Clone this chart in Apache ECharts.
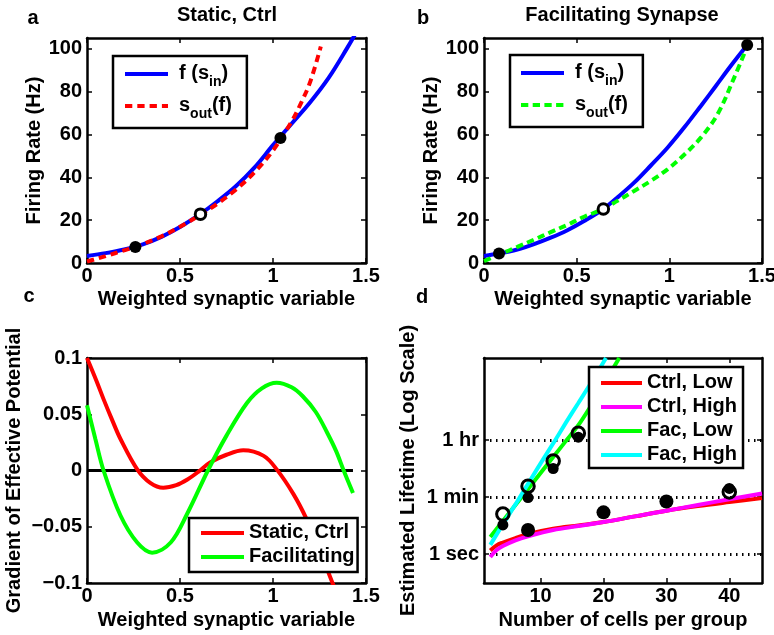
<!DOCTYPE html>
<html>
<head>
<meta charset="utf-8">
<title>Firing rate and lifetime</title>
<script src="https://cdn.jsdelivr.net/npm/echarts@6.0.0/dist/echarts.min.js"></script>
<style>
  html, body { margin: 0; padding: 0; background: #fff; }
  #main { width: 774px; height: 635px; }
</style>
</head>
<body>
<div id="main"></div>
<script>
// ---- a : static synapse, control ----
var aInS    = [0, 0.1, 0.2, 0.3, 0.4, 0.5, 0.6, 0.7, 0.8, 0.9, 1.0, 1.1, 1.2, 1.3, 1.4, 1.45];
var aInHz   = [3.3, 4.6, 6.3, 8.7, 12.2, 16.8, 22.3, 28.7, 35.8, 44.5, 55, 65, 75, 86.5, 100.5, 108];
var aOutS   = [0, 0.1, 0.2, 0.26, 0.4, 0.5, 0.6, 0.7, 0.8, 0.9, 1.0, 1.1, 1.15, 1.2, 1.257];
var aOutHz  = [0.7, 3.2, 5.9, 7.5, 12.4, 16.9, 22.0, 27.6, 34.2, 42.3, 52.5, 66, 74.5, 84.5, 101];
var aDotS   = [0.26, 1.04];
var aDotHz  = [7.5, 58.3];
var aRingS  = [0.61];
var aRingHz = [22.8];

// ---- b : facilitating synapse ----
var bInS    = [0, 0.081, 0.18, 0.27, 0.36, 0.45, 0.54, 0.644, 0.72, 0.81, 0.9, 0.99, 1.08, 1.17, 1.25, 1.33, 1.42];
var bInHz   = [3.3, 4.4, 6.3, 8.8, 11.8, 15.3, 19.6, 25.2, 30.6, 37.5, 45.5, 53.8, 63.2, 73.3, 82.5, 91.8, 101.7];
var bOutS   = [0, 0.09, 0.18, 0.27, 0.36, 0.45, 0.54, 0.644, 0.72, 0.81, 0.9, 0.99, 1.08, 1.17, 1.26, 1.35, 1.42];
var bOutHz  = [0.9, 4.2, 7.5, 10.9, 14.4, 17.8, 21.6, 25.2, 29.0, 33.6, 38.3, 43.7, 50.5, 58.5, 69.4, 86.5, 101];
var bDotS   = [0.081, 1.42];
var bDotHz  = [4.4, 101.7];
var bRingS  = [0.644];
var bRingHz = [25.2];

// ---- c : gradient of effective potential ----
var cZeroS   = [0, 1.43];
var cZeroG   = [0, 0];
var cCtrlS   = [0, 0.05, 0.09, 0.135, 0.18, 0.27, 0.34, 0.41, 0.48, 0.54, 0.6, 0.66, 0.75, 0.84, 0.95, 1.02, 1.11, 1.18, 1.25, 1.32, 1.36];
var cCtrlG   = [0.1, 0.08, 0.063, 0.045, 0.028, 0.001, -0.011, -0.0153, -0.013, -0.008, -0.001, 0.007, 0.014, 0.018, 0.013, 0.001, -0.021, -0.043, -0.07, -0.1, -0.115];
var cFacS    = [0, 0.045, 0.089, 0.18, 0.27, 0.35, 0.45, 0.54, 0.65, 0.75, 0.86, 0.94, 1.02, 1.1, 1.16, 1.23, 1.29, 1.34, 1.38, 1.43];
var cFacG    = [0.058, 0.028, 0, -0.04, -0.064, -0.073, -0.064, -0.038, 0, 0.031, 0.06, 0.073, 0.078, 0.074, 0.066, 0.052, 0.034, 0.017, 0, -0.02];

// ---- d : estimated lifetime (seconds) ----
var dCtrlN      = [2, 3, 4, 6, 8, 12, 16, 20, 25, 30, 35, 40, 45.2];
var dCtrlLowT   = [1.28, 1.85, 2.27, 3.15, 4.2, 6.1, 7.75, 9.9, 14.9, 22.4, 31.2, 41.6, 55.4];
var dCtrlHighT  = [0.81, 1.33, 1.77, 2.67, 3.56, 5.58, 7.43, 9.9, 14.9, 22.4, 33.8, 50.9, 76.7];
var dFacLowN    = [2, 4, 6, 8, 10, 12, 14, 16, 18, 20, 22.5];
var dFacLowT    = [3.41, 10.75, 33.8, 106, 335, 1054, 3320, 10430, 41900, 190700, 1306000];
var dFacHighN   = [2, 4, 6, 8, 10, 12, 14, 16, 18, 20.4];
var dFacHighT   = [1.93, 8.4, 35.2, 154, 671, 2814, 12300, 51500, 216000, 1306000];
var dBigDotN    = [8, 20, 30];
var dBigDotT    = [5.6, 19.9, 43.2];
var dDotN       = [4, 8, 12, 16, 40];
var dDotT       = [8.07, 57.6, 465, 4420, 110.8];
var dRingN      = [4, 8, 12, 16, 40];
var dRingT      = [17.6, 130.5, 791, 5890, 86.7];
var dTickSec    = [1, 60, 3600];
var dTickNames  = ['1 sec', '1 min', '1 hr'];

var font = '"Liberation Sans", Arial, Helvetica, sans-serif';
var txt = { fontFamily: font, fontSize: 20, fontWeight: 'bold', color: '#000' };

// log axis in units of log60 so that sec / min / hr are evenly spaced
function toU(sec) { return Math.log(sec) / Math.log(60); }
function pair(xs, ys) { return xs.map(function (x, i) { return [x, ys[i]]; }); }

var xAxes = [], yAxes = [];
function frame(g, x, y) {
  var tick = function (v) {
    return { show: true, inside: true, length: 5, customValues: v, lineStyle: { color: '#000', width: 1.5 } };
  };
  var line = { show: true, onZero: false, lineStyle: { color: '#000', width: 2.5 } };
  xAxes.push({
    gridIndex: g, type: 'value', min: x.min, max: x.max, position: 'bottom',
    axisLine: line, axisTick: tick(x.ticks), splitLine: { show: false },
    axisLabel: Object.assign({ customValues: x.ticks, margin: 3 }, txt),
    name: x.name, nameLocation: 'middle', nameGap: x.gap, nameTextStyle: txt
  });
  xAxes.push({
    gridIndex: g, type: 'value', min: x.min, max: x.max, position: 'top',
    axisLine: line, axisTick: tick(x.ticks), splitLine: { show: false }, axisLabel: { show: false }
  });
  var yl = Object.assign({ customValues: y.ticks, margin: 5 }, txt);
  if (y.fmt) yl.formatter = y.fmt;
  yAxes.push({
    gridIndex: g, type: 'value', min: y.min, max: y.max, position: 'left',
    axisLine: line, axisTick: tick(y.ticks), axisLabel: yl,
    splitLine: y.dotted ? { show: true, lineStyle: { color: '#000', width: 3, type: [1.5, 4.5] } } : { show: false },
    name: y.name, nameLocation: 'middle', nameGap: y.gap, nameTextStyle: txt
  });
  yAxes.push({
    gridIndex: g, type: 'value', min: y.min, max: y.max, position: 'right',
    axisLine: line, axisTick: tick(y.ticks), splitLine: { show: false }, axisLabel: { show: false }
  });
}

var sTicks = [0, 0.5, 1, 1.5];
var hzTicks = [0, 20, 40, 60, 80, 100];
frame(0, { min: 0, max: 1.5, ticks: sTicks, name: 'Weighted synaptic variable', gap: 26 },
         { min: 0, max: 105, ticks: hzTicks, name: 'Firing Rate (Hz)', gap: 43 });
frame(1, { min: 0, max: 1.5, ticks: sTicks, name: 'Weighted synaptic variable', gap: 26 },
         { min: 0, max: 105, ticks: hzTicks, name: 'Firing Rate (Hz)', gap: 43 });
frame(2, { min: 0, max: 1.5, ticks: sTicks, name: 'Weighted synaptic variable', gap: 27 },
         { min: -0.1, max: 0.1, ticks: [-0.1, -0.05, 0, 0.05, 0.1], name: 'Gradient of Effective Potential', gap: 63,
           fmt: function (v) { return String(v).replace('-', '\u2212'); } });
frame(3, { min: 1, max: 45.2, ticks: [10, 20, 30, 40], name: 'Number of cells per group', gap: 27 },
         { min: -0.509, max: 3.439, ticks: dTickSec.map(toU), name: 'Estimated Lifetime (Log Scale)', gap: 66, dotted: true,
           fmt: function (v) { return dTickNames[Math.round(v)]; } });

function curve(g, name, xs, ys, color, dash) {
  return {
    type: 'line', name: name, xAxisIndex: 2 * g, yAxisIndex: 2 * g, data: pair(xs, ys),
    symbol: 'none', smooth: 0.35, clip: true, silent: true, z: 2,
    lineStyle: { color: color, width: 4, type: dash || 'solid' }, itemStyle: { color: color }
  };
}
function marks(g, xs, ys, size, kind) {
  var st = { color: '#000', opacity: 1 };
  if (kind === 'ring') st = { color: '#fff', borderColor: '#000', borderWidth: 3, opacity: 1 };
  if (kind === 'hollow') st = { color: 'rgba(0,0,0,0)', borderColor: '#000', borderWidth: 3, opacity: 1 };
  return {
    type: 'scatter', xAxisIndex: 2 * g, yAxisIndex: 2 * g, data: pair(xs, ys),
    symbol: 'circle', symbolSize: size, itemStyle: st, silent: true, z: 3
  };
}

var series = [
  curve(0, 'aIn', aInS, aInHz, '#0000ff'),
  curve(0, 'aOut', aOutS, aOutHz, '#ff0000', [7.3, 5]),
  marks(0, aDotS, aDotHz, 12),
  marks(0, aRingS, aRingHz, 10.5, 'ring'),

  curve(1, 'bIn', bInS, bInHz, '#0000ff'),
  curve(1, 'bOut', bOutS, bOutHz, '#00ff00', [7.3, 4.4]),
  marks(1, bDotS, bDotHz, 12),
  marks(1, bRingS, bRingHz, 10.5, 'ring'),

  curve(2, 'zero', cZeroS, cZeroG, '#000000'),
  curve(2, 'Static, Ctrl', cCtrlS, cCtrlG, '#ff0000'),
  curve(2, 'Facilitating', cFacS, cFacG, '#00ff00'),

  curve(3, 'Ctrl, Low', dCtrlN, dCtrlLowT.map(toU), '#ff0000'),
  curve(3, 'Ctrl, High', dCtrlN, dCtrlHighT.map(toU), '#ff00ff'),
  curve(3, 'Fac, Low', dFacLowN, dFacLowT.map(toU), '#00ff00'),
  curve(3, 'Fac, High', dFacHighN, dFacHighT.map(toU), '#00ffff'),
  marks(3, dBigDotN, dBigDotT.map(toU), 14),
  marks(3, dDotN, dDotT.map(toU), 11),
  marks(3, dRingN, dRingT.map(toU), 12.5, 'hollow')
];
series[8].lineStyle.width = 3;

var legendText = {
  aIn: '{u|f (s}{s|in}{t|)}', aOut: '{u|s}{s|out}{t|(f)}',
  bIn: '{u|f (s}{s|in}{t|)}', bOut: '{u|s}{s|out}{t|(f)}'
};
var rich = {
  t: { fontFamily: font, fontSize: 20, fontWeight: 'bold', color: '#000', lineHeight: 22, verticalAlign: 'top' },
  u: { fontFamily: font, fontSize: 20, fontWeight: 'bold', color: '#000', lineHeight: 22, verticalAlign: 'top', padding: [0, 0, 0, 6] },
  s: { fontFamily: font, fontSize: 14, fontWeight: 'bold', color: '#000', lineHeight: 14, verticalAlign: 'top', padding: [12, 0, 0, 0] }
};
function legendBox(names, left, top, pad, gap, w) {
  return {
    data: names, orient: 'vertical', left: left, top: top, padding: pad, itemGap: gap,
    itemWidth: w, itemHeight: 14, backgroundColor: '#fff', borderColor: '#000', borderWidth: 2.5,
    borderRadius: 0, selectedMode: false, z: 10,
    lineStyle: { width: 4 }, itemStyle: { opacity: 0 },
    formatter: function (n) { return legendText[n] || ('{t|' + n + '}'); },
    textStyle: { rich: rich }
  };
}

var option = {
  animation: false,
  backgroundColor: '#fff',
  grid: [
    { left: 87, top: 38, width: 279, height: 225, containLabel: false, outerBoundsMode: 'none' },
    { left: 484, top: 38, width: 278, height: 225, containLabel: false, outerBoundsMode: 'none' },
    { left: 87, top: 358, width: 279, height: 225, containLabel: false, outerBoundsMode: 'none' },
    { left: 484, top: 358, width: 278, height: 225, containLabel: false, outerBoundsMode: 'none' }
  ],
  xAxis: xAxes,
  yAxis: yAxes,
  legend: [
    legendBox(['aIn', 'aOut'], 113, 56, [7, 15, 7, 10], 6, 43),
    legendBox(['bIn', 'bOut'], 510, 55, [7, 15, 7, 9], 6, 43),
    legendBox(['Static, Ctrl', 'Facilitating'], 189, 518, [4, 3, 6, 10], 4, 43),
    legendBox(['Ctrl, Low', 'Ctrl, High', 'Fac, Low', 'Fac, High'], 589, 367, [5, 6, 4, 10], 4, 41)
  ],
  graphic: [
    ['a', 33, 18], ['b', 423, 18], ['c', 29, 296], ['d', 422, 297],
    ['Static, Ctrl', 227, 15], ['Facilitating Synapse', 622, 15]
  ].map(function (t) {
    return {
      type: 'text', x: t[1], y: t[2], silent: true,
      style: { text: t[0], fill: '#000', font: 'bold 20px ' + font,
               textAlign: 'center', textVerticalAlign: 'middle', align: 'center', verticalAlign: 'middle' }
    };
  }),
  series: series
};

var chart = echarts.init(document.getElementById('main'));
chart.setOption(option);
</script>
</body>
</html>
